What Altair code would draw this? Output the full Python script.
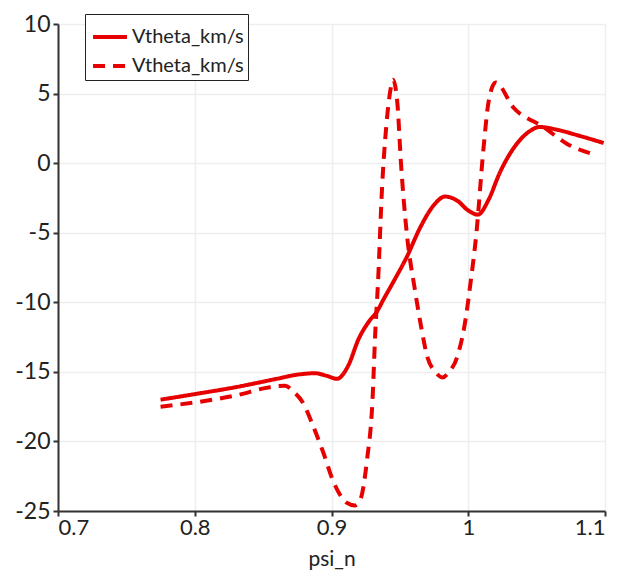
import altair as alt
import pandas as pd

# Solid profile: Vtheta vs psi_n
solid_psi = [0.775, 0.80, 0.83, 0.86, 0.875, 0.888, 0.897, 0.904, 0.912, 0.92, 0.928, 0.933, 0.938, 0.946,
             0.955, 0.965, 0.975, 0.983, 0.992, 1.0, 1.007, 1.015, 1.023, 1.036, 1.045, 1.052, 1.065, 1.08, 1.099]
solid_v = [-17.0, -16.6, -16.1, -15.5, -15.2, -15.1, -15.3, -15.5, -14.6, -12.6, -11.3, -10.7, -9.8, -8.4,
           -6.75, -4.6, -3.0, -2.4, -2.7, -3.4, -3.7, -2.6, -0.7, 1.45, 2.3, 2.6, 2.4, 2.0, 1.45]

# Dashed profile: Vtheta vs psi_n
dash_psi = [0.775, 0.80, 0.83, 0.855, 0.866, 0.872, 0.879, 0.887, 0.894, 0.901, 0.906, 0.911, 0.917, 0.921,
            0.926, 0.93, 0.932, 0.934, 0.937, 0.94, 0.943, 0.945, 0.948, 0.951, 0.955, 0.961, 0.966, 0.97,
            0.976, 0.981, 0.986, 0.992, 0.999, 1.001, 1.006, 1.011, 1.015, 1.02, 1.033, 1.055, 1.072, 1.093]
dash_v = [-17.5, -17.2, -16.7, -16.1, -16.0, -16.4, -17.2, -19.0, -20.8, -22.8, -23.8, -24.4, -24.6, -24.2,
          -21.3, -17.0, -12.2, -8.6, -1.7, 2.6, 5.2, 6.0, 4.5, -0.3, -5.0, -9.1, -12.0, -13.9,
          -15.0, -15.4, -15.0, -13.9, -10.6, -9.1, -5.0, 0.9, 4.5, 5.8, 4.0, 2.6, 1.4, 0.6]

x_ticks = [0.7, 0.8, 0.9, 1.0, 1.1]
y_ticks = [-25, -20, -15, -10, -5, 0, 5, 10]

df = pd.concat([
    pd.DataFrame({"psi_n": solid_psi, "v": solid_v, "series": "solid", "order": range(len(solid_psi))}),
    pd.DataFrame({"psi_n": dash_psi, "v": dash_v, "series": "dashed", "order": range(len(dash_psi))}),
])

font = "Lato"
red = "#e60000"
# plain hyphen for negative tick labels
label_expr = "datum.value < 0 ? '-' + format(-datum.value, '~g') : format(datum.value, '~g')"

chart = alt.Chart(df).mark_line(
    color=red, strokeWidth=4, interpolate="monotone", clip=True
).encode(
    x=alt.X("psi_n:Q",
            scale=alt.Scale(domain=[0.7, 1.1], nice=False, zero=False),
            axis=alt.Axis(title="psi_n", values=x_ticks, labelExpr=label_expr, labelFontSize=22,
                          labelPadding=1, titleFontSize=21, titleFontWeight="normal",
                          titleBaseline="bottom", titleY=58)),
    y=alt.Y("v:Q",
            scale=alt.Scale(domain=[-25, 10], nice=False, zero=False),
            axis=alt.Axis(title=None, values=y_ticks, labelExpr=label_expr, labelPadding=3,
                          labelFontSize=23)),
    strokeDash=alt.StrokeDash("series:N",
                              scale=alt.Scale(domain=["solid", "dashed"], range=[[1, 0], [12, 8]]),
                              legend=alt.Legend(title=None, orient="none", legendX=27, legendY=-10,
                                                labelExpr="'Vtheta_km/s'", symbolType="stroke",
                                                symbolStrokeColor=red, symbolStrokeWidth=4, symbolSize=1150,
                                                labelFontSize=20, labelFont=font, labelColor="#222",
                                                strokeColor="#222", fillColor="white", padding=4,
                                                rowPadding=-7, symbolOffset=2, labelOffset=3)),
    order="order:Q",
).properties(
    width=547, height=487,
    padding={"left": 58, "top": 24, "right": 16, "bottom": 59},
    autosize="none",
).configure_axis(
    labelFont=font, titleFont=font, labelColor="#222", titleColor="#222",
    domainColor="#333", domainWidth=2, tickColor="#333", tickWidth=2, tickSize=5,
    gridColor="#eeeeee", gridWidth=1.5,
).configure_view(stroke=None)

chart.save("out.html", embed_options={"renderer": "svg", "actions": False})
